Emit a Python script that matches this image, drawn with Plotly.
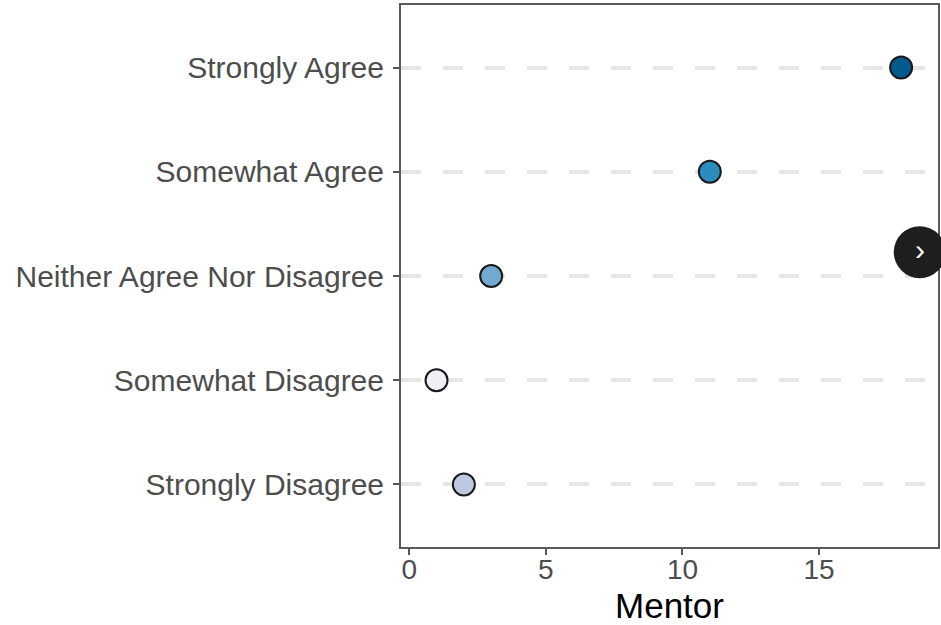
import plotly.graph_objects as go

# Response categories (bottom to top) and counts for "Mentor"
categories = ["Strongly Disagree", "Somewhat Disagree", "Neither Agree Nor Disagree",
              "Somewhat Agree", "Strongly Agree"]
counts = [2, 1, 3, 11, 18]
# PuBu palette, shaded by count
colors = ["#bdc9e1", "#f1eef6", "#74a9cf", "#2b8cbe", "#045a8d"]
x_ticks = [0, 5, 10, 15]

FONT = "Helvetica, Liberation Sans, Arial, sans-serif"

fig = go.Figure(
    go.Scatter(
        x=counts,
        y=categories,
        mode="markers",
        marker=dict(size=22, color=colors, line=dict(color="#1a1a1a", width=2)),
        hoverinfo="x+y",
    )
)

fig.update_layout(
    width=941,
    height=625,
    margin=dict(l=401, r=1, t=5, b=78),
    paper_bgcolor="white",
    plot_bgcolor="white",
    showlegend=False,
    font=dict(family=FONT, color="#4d4d4d"),
)

fig.update_xaxes(
    range=[-0.3, 19.35],
    tickvals=x_ticks,
    ticktext=[str(v) for v in x_ticks],
    tickfont=dict(size=28, color="#4d4d4d"),
    ticks="outside",
    ticklen=6,
    tickwidth=2,
    tickcolor="#555555",
    ticklabelstandoff=-10,
    showgrid=False,
    zeroline=False,
    showline=True,
    mirror=True,
    linecolor="#5a5a5a",
    linewidth=2,
    title=dict(text="Mentor", font=dict(size=35, color="black"), standoff=14),
)

fig.update_yaxes(
    type="category",
    categoryorder="array",
    categoryarray=categories,
    range=[-0.6, 4.6],
    tickfont=dict(size=30, color="#4d4d4d"),
    ticks="outside",
    ticklen=6,
    tickwidth=2,
    tickcolor="#555555",
    showgrid=True,
    gridcolor="#e6e6e6",
    gridwidth=4,
    griddash="20px,22px",
    zeroline=False,
    showline=True,
    mirror=True,
    linecolor="#5a5a5a",
    linewidth=2,
    ticklabelstandoff=3,
)

# Round "next" button overlaid on the right edge
fig.add_shape(
    type="circle",
    xref="paper", yref="paper",
    xsizemode="pixel", ysizemode="pixel",
    xanchor=0.966, yanchor=0.544,
    x0=-26, x1=26, y0=-26, y1=26,
    fillcolor="#1e1e1e",
    line=dict(width=0),
    layer="above",
)
fig.add_annotation(
    x=0.966, y=0.548, xref="paper", yref="paper",
    text="›", showarrow=False,
    font=dict(size=30, color="white", family=FONT),
    xanchor="center", yanchor="middle",
)

fig.write_html("out.html")
